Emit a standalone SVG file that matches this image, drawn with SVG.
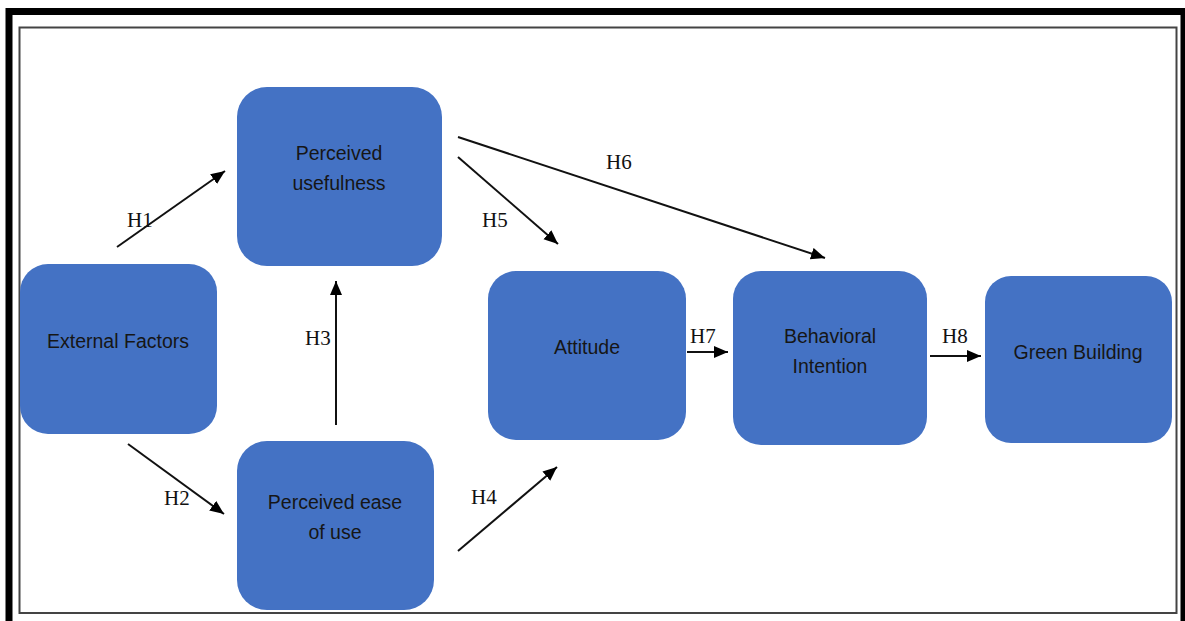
<svg xmlns="http://www.w3.org/2000/svg" width="1185" height="621" viewBox="0 0 1185 621">
<style>
.node{fill:#4472C4;}
.nt{font-family:"Liberation Sans",Arial,sans-serif;font-size:19.5px;fill:#161616;text-anchor:middle;}
.lbl{font-family:"Liberation Serif","Times New Roman",serif;font-size:21px;fill:#111;}
.conn line{stroke:#111;stroke-width:2;marker-end:url(#ah);}
</style>
<defs>
<marker id="ah" markerUnits="userSpaceOnUse" markerWidth="16" markerHeight="14" refX="14" refY="6" orient="auto">
<path d="M0,0 L14,6 L0,12 Z" fill="#000"/>
</marker>
</defs>
<rect x="0" y="0" width="1185" height="621" fill="#fff"/>
<rect x="9" y="11.5" width="1175" height="700" fill="none" stroke="#000" stroke-width="7"/>
<rect x="19.5" y="27.5" width="1157" height="585.5" fill="none" stroke="#444" stroke-width="2"/>

<g id="external-factors">
<rect class="node" x="20" y="264" width="197" height="170" rx="28"/>
<text class="nt" x="118" y="348">External Factors</text>
</g>
<g id="perceived-usefulness">
<rect class="node" x="237" y="87" width="205" height="179" rx="30"/>
<text class="nt" x="339" y="160">Perceived</text>
<text class="nt" x="339" y="190">usefulness</text>
</g>
<g id="perceived-ease-of-use">
<rect class="node" x="237" y="441" width="197" height="169" rx="30"/>
<text class="nt" x="335" y="509">Perceived ease</text>
<text class="nt" x="335" y="539">of use</text>
</g>
<g id="attitude">
<rect class="node" x="488" y="271" width="198" height="169" rx="28"/>
<text class="nt" x="587" y="354">Attitude</text>
</g>
<g id="behavioral-intention">
<rect class="node" x="733" y="271" width="194" height="174" rx="28"/>
<text class="nt" x="830" y="343">Behavioral</text>
<text class="nt" x="830" y="373">Intention</text>
</g>
<g id="green-building">
<rect class="node" x="985" y="276" width="187" height="167" rx="26"/>
<text class="nt" x="1078" y="359">Green Building</text>
</g>

<g id="connectors" class="conn">
<line x1="117" y1="247" x2="225" y2="171"/>
<line x1="128" y1="444" x2="224" y2="514"/>
<line x1="336" y1="425" x2="336" y2="281"/>
<line x1="458" y1="551" x2="557" y2="467"/>
<line x1="458" y1="157" x2="558" y2="244"/>
<line x1="458" y1="137" x2="825" y2="258"/>
<line x1="687" y1="352" x2="728" y2="352"/>
<line x1="930" y1="356" x2="981" y2="356"/>
</g>
<g id="labels">
<text class="lbl" x="127" y="227">H1</text>
<text class="lbl" x="164" y="505">H2</text>
<text class="lbl" x="305" y="345">H3</text>
<text class="lbl" x="471" y="504">H4</text>
<text class="lbl" x="482" y="227">H5</text>
<text class="lbl" x="606" y="169">H6</text>
<text class="lbl" x="690" y="343">H7</text>
<text class="lbl" x="942" y="343">H8</text>
</g>
</svg>
